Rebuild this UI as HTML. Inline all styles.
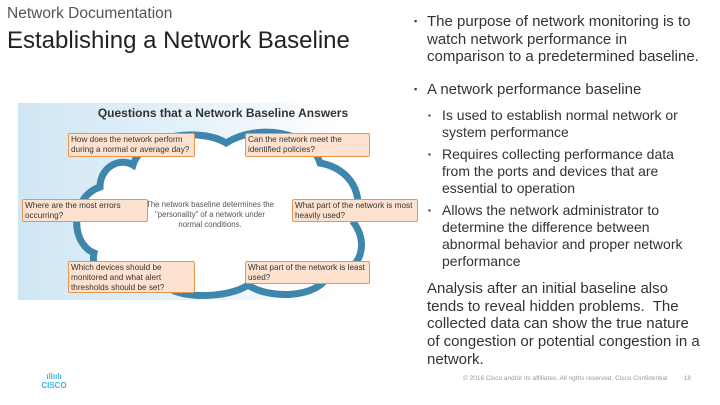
<!DOCTYPE html>
<html><head><meta charset="utf-8"><style>
body{margin:0;width:720px;height:405px;background:#fff;font-family:"Liberation Sans",sans-serif;position:relative;overflow:hidden}
.a{position:absolute}
.box{position:absolute;background:#fde3cf;border:1px solid #e8964f;border-radius:2px;font-size:8.2px;line-height:10px;color:#333;padding:1px 2px;box-sizing:border-box}
.t{font-size:15px;color:#333;line-height:17.5px}
</style></head><body>
<div class="a" style="left:7px;top:5px;font-size:15.5px;color:#555">Network Documentation</div>
<div class="a" style="left:7px;top:27px;font-size:24px;color:#222">Establishing a Network Baseline</div>

<div class="a" style="left:18px;top:103px;width:402px;height:197px;background:linear-gradient(90deg,#cfe6f4 0%,#e6f2fa 45%,#ffffff 80%)"></div>
<svg class="a" style="left:18px;top:103px" width="402" height="197">
<path d="M115,62 C125,30 185,25 208,40 C240,20 292,28 302,60 C332,65 348,92 336,120 C352,142 342,172 310,172 C300,196 250,196 230,182 C210,196 158,196 148,182 C112,192 70,176 76,150 C52,140 52,94 82,84 C82,64 102,54 115,62 Z" fill="#fff" stroke="#3f86ad" stroke-width="7"/>
</svg>
<div class="a" style="left:18px;top:106px;width:410px;text-align:center;font-size:12px;font-weight:bold;color:#333">Questions that a Network Baseline Answers</div>
<div class="a" style="left:145px;top:200px;width:130px;text-align:center;font-size:7.8px;line-height:10px;color:#555">The network baseline determines the "personality" of a network under normal conditions.</div>
<div class="box" style="left:68px;top:133px;width:127px;height:24px">How does the network perform during a normal or average day?</div>
<div class="box" style="left:245px;top:133px;width:125px;height:24px;padding-right:14px">Can the network meet the identified policies?</div>
<div class="box" style="left:22px;top:199px;width:126px;height:23px">Where are the most errors occurring?</div>
<div class="box" style="left:292px;top:199px;width:126px;height:23px">What part of the network is most heavily used?</div>
<div class="box" style="left:68px;top:261px;width:127px;height:32px;padding-right:12px">Which devices should be monitored and what alert thresholds should be set?</div>
<div class="box" style="left:245px;top:261px;width:125px;height:23px">What part of the network is least used?</div>

<div class="a t" style="left:414px;top:13px;width:300px;white-space:nowrap"><span style="position:absolute;left:0;font-size:9px">▪</span><div style="margin-left:13px">The purpose of network monitoring is to<br>watch network performance in<br>comparison to a predetermined baseline.</div></div>
<div class="a t" style="left:414px;top:81px;width:288px"><span style="position:absolute;left:0;font-size:9px">▪</span><div style="margin-left:13px">A network performance baseline</div></div>
<div class="a" style="left:428px;top:107px;width:262px;font-size:14px;line-height:17px;color:#333">
<div style="position:relative;margin-bottom:5px"><span style="position:absolute;left:0;font-size:8px">▪</span><div style="margin-left:14px">Is used to establish normal network or system performance</div></div>
<div style="position:relative;margin-bottom:5px"><span style="position:absolute;left:0;font-size:8px">▪</span><div style="margin-left:14px">Requires collecting performance data from the ports and devices that are essential to operation</div></div>
<div style="position:relative"><span style="position:absolute;left:0;font-size:8px">▪</span><div style="margin-left:14px">Allows the network administrator to determine the difference between abnormal behavior and proper network performance</div></div>
</div>
<div class="a t" style="left:427px;top:280px;width:290px;font-size:15px;line-height:17.7px;white-space:nowrap">Analysis after an initial baseline also<br>tends to reveal hidden problems.&nbsp; The<br>collected data can show the true nature<br>of congestion or potential congestion in a<br>network.</div>

<div class="a" style="left:40px;top:372px;color:#3fb3e0;font-size:8px;font-weight:bold;line-height:9px;text-align:center;width:28px">ıllıılı<br>CISCO</div>
<div class="a" style="left:463px;top:375px;font-size:6.5px;color:#999;white-space:nowrap">© 2016  Cisco and/or its affiliates. All rights reserved.   Cisco Confidential&nbsp;&nbsp;&nbsp;&nbsp;&nbsp;&nbsp;&nbsp;&nbsp;&nbsp;18</div>
</body></html>
